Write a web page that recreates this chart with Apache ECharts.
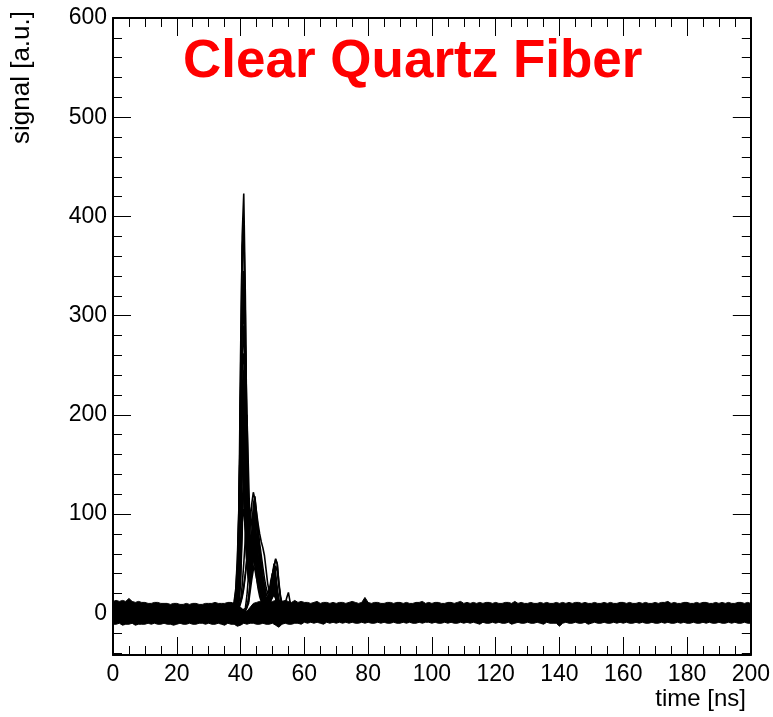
<!DOCTYPE html>
<html>
<head>
<meta charset="utf-8">
<script src="https://cdn.jsdelivr.net/npm/echarts@6/dist/echarts.min.js"></script>
<style>
html,body{margin:0;padding:0;background:#fff;}
#chart{width:773px;height:717px;}
</style>
</head>
<body>
<div id="chart"></div>
<script>
// ---- axis settings / labels ----
const titleText = "Clear Quartz Fiber";
const xTitle = "time [ns]";
const yTitle = "signal [a.u.]";
const xMin = 0, xMax = 200, xStep = 20;
const yMin = -42, yMax = 600;
const yMajorTicks = [0, 100, 200, 300, 400, 500, 600];
const yMinorTicks = [-40, -20, 20, 40, 60, 80, 120, 140, 160, 180, 220, 240, 260, 280, 320, 340, 360, 380, 420, 440, 460, 480, 520, 540, 560, 580];

// ---- baseline noise band (envelope of all overlaid traces), sampled every 1 ns from 0 to 200 ns ----
const bandStep = 1;
const bandUpper = [
 12,13,12,13,12,15,12,11,12,11,
 11,10,10,11,11,10,10,10,9,10,
 10,9,9,10,9,10,10,9,9,10,
 10,10,11,10,10,10,11,11,10,8,
 6,3,2,6,10,11,12,11,12,11,
 12,13,12,12,13,12,11,13,11,12,
 11,11,10,11,12,10,11,11,10,11,
 10,11,11,10,11,12,11,10,11,16,
 11,10,11,11,10,10,11,11,10,11,
 11,10,11,10,10,11,11,12,10,11,
 10,11,11,10,10,11,11,10,11,12,
 10,11,10,11,10,11,10,11,11,10,
 11,10,10,11,11,10,12,10,11,10,
 10,11,10,10,11,10,11,10,10,11,
 10,11,10,11,10,11,11,10,11,10,
 10,11,10,10,11,10,11,10,10,11,
 11,10,11,10,10,11,10,11,10,10,
 11,10,11,11,12,10,11,10,10,11,
 11,10,10,11,10,11,11,10,10,11,
 10,11,10,11,10,10,11,11,10,11,
 10
];
const bandLower = [
 -11,-11,-10,-12,-11,-11,-10,-12,-11,-11,
 -11,-10,-11,-10,-11,-11,-10,-11,-11,-12,
 -11,-10,-11,-11,-10,-11,-11,-10,-10,-11,
 -10,-11,-11,-10,-11,-12,-10,-11,-11,-13,
 -12,-10,-11,-10,-10,-11,-11,-10,-11,-11,
 -10,-12,-14,-11,-10,-11,-11,-10,-10,-11,
 -9,-10,-9,-10,-9,-10,-11,-9,-10,-9,
 -10,-9,-10,-9,-10,-9,-10,-10,-9,-10,
 -9,-10,-10,-9,-10,-9,-10,-10,-9,-10,
 -10,-9,-10,-9,-10,-10,-9,-10,-9,-9,
 -10,-9,-10,-10,-9,-10,-9,-10,-10,-9,
 -10,-9,-10,-9,-10,-11,-9,-10,-10,-9,
 -10,-9,-10,-10,-9,-11,-10,-9,-10,-10,
 -9,-10,-10,-9,-10,-11,-9,-10,-10,-10,
 -13,-10,-9,-10,-10,-9,-10,-10,-9,-11,
 -10,-9,-10,-10,-9,-10,-10,-9,-10,-9,
 -10,-9,-10,-10,-9,-10,-9,-10,-10,-9,
 -10,-10,-9,-10,-9,-10,-10,-9,-10,-9,
 -10,-10,-9,-10,-10,-9,-10,-9,-10,-10,
 -9,-10,-10,-9,-10,-9,-10,-10,-9,-10,
 -10
];

// ---- pulse region sample times (ns) ----
const pulseT = [37,37.5,38,38.5,39,39.5,40,40.5,41,41.5,42,42.5,43,43.5,44,44.5,45,45.5,46,46.5,47,47.5,48,48.5,49,49.5,50,50.5,51,51.5,52,52.5,53,53.5,54,54.5,55,55.5,56];

// ---- individual traces in the pulse region ----
const w1  = [3,-2,5,6,22,85,235,380,423,320,170,80,45,60,85,95,75,50,35,25,18,12,10,14,20,30,40,44,33,20,12,8,5,7,3,6,2,4,1];
const w2  = [-4,2,0,8,18,70,210,350,392,300,150,70,55,80,110,118,100,85,70,58,46,35,26,20,22,28,38,50,40,25,14,10,6,5,10,16,21,12,4];
const w3  = [1,4,2,10,30,110,260,370,385,260,120,60,48,72,100,112,95,75,58,45,34,25,18,16,22,33,40,46,55,50,30,15,8,9,4,2,6,1,3];
const w4  = [0,3,-1,6,15,60,180,290,330,260,140,65,40,55,80,90,70,48,32,22,15,11,8,12,16,24,32,38,30,18,10,6,8,3,5,2,4,0,2];
const w5  = [2,-3,4,7,25,90,210,290,305,220,110,55,38,50,70,82,62,42,30,20,14,10,7,10,15,22,30,35,28,16,9,7,4,6,2,5,1,3,0];
const w6  = [-2,1,3,4,12,45,150,250,290,245,130,62,42,58,78,88,70,46,32,22,16,11,9,11,14,20,28,32,26,15,10,6,5,3,6,2,4,1,0];
const w7  = [3,0,2,9,22,75,180,250,262,190,100,48,35,48,65,75,58,40,28,18,13,9,8,10,14,20,26,30,24,14,9,5,6,3,4,1,3,0,2];
const w8  = [1,-2,3,5,14,55,150,225,245,190,95,45,32,45,62,70,55,38,26,17,12,9,7,9,13,18,24,28,22,13,8,6,3,5,2,4,1,2,0];
const w9  = [0,2,4,8,25,80,170,222,210,150,75,40,35,50,68,78,60,40,27,18,13,9,8,10,12,17,22,26,20,12,8,5,4,3,5,2,3,1,2];
const w10 = [-1,3,1,6,13,48,130,190,208,160,82,42,30,42,58,66,52,36,24,16,12,8,6,8,11,15,20,24,19,11,7,5,3,4,2,3,1,0,2];
const w11 = [2,0,3,5,12,40,110,170,188,150,80,40,32,46,62,72,56,38,26,17,12,8,7,9,12,16,21,25,20,12,8,5,4,3,2,4,1,2,0];
const w12 = [1,-1,2,4,11,35,95,150,168,140,78,40,30,40,54,60,48,33,23,15,11,8,6,8,10,14,18,22,17,10,7,5,3,4,2,3,0,1,2];
const w13 = [0,2,1,6,14,45,105,145,150,110,60,34,30,44,60,68,52,35,24,16,11,8,6,8,11,15,19,22,17,10,7,4,3,5,2,3,1,0,1];
const w14 = [2,1,3,5,10,30,78,115,128,105,62,36,30,42,56,62,48,33,22,15,10,7,6,7,9,13,16,19,15,9,6,4,3,2,4,1,2,0,1];
const w15 = [-1,1,2,4,8,22,60,92,105,92,60,38,34,48,64,72,56,38,26,17,12,8,6,8,10,13,17,20,16,9,6,4,3,4,2,1,3,0,1];
const w16 = [2,5,12,25,55,110,200,235,170,95,50,35,40,55,62,50,36,25,17,12,9,7,6,8,11,16,22,26,20,12,8,5,4,3,2,4,1,2,0];
const w17 = [1,-2,3,2,5,8,12,18,28,40,55,72,92,110,122,115,102,90,80,72,66,58,44,30,22,28,38,48,54,50,32,18,10,6,5,3,4,2,1];
const w18 = [0,2,1,4,3,6,10,16,25,38,55,72,88,95,85,68,50,36,26,19,14,10,8,9,12,16,20,22,18,11,7,5,3,4,2,3,1,0,2];
const w19 = [2,-1,3,1,4,2,5,3,1,4,2,12,30,50,66,76,80,70,54,40,30,22,16,12,12,16,22,28,24,15,9,6,5,3,4,2,3,1,0];
const w20 = [-2,1,0,3,2,5,4,3,2,5,18,38,55,62,65,58,48,38,30,24,19,15,12,12,16,22,28,32,26,16,10,6,5,3,2,4,1,2,0];
const w21 = [1,0,2,-1,3,2,4,1,3,2,4,10,22,34,44,52,55,50,40,30,22,17,14,15,18,24,32,40,48,42,28,16,10,7,5,3,4,2,1];
const w22 = [0,3,1,2,4,3,2,4,1,3,6,16,30,42,48,44,36,28,22,17,13,10,10,14,18,22,25,24,20,14,9,6,4,3,5,2,3,1,0];
const w23 = [1,2,0,3,8,25,70,160,240,270,200,110,60,50,65,80,75,58,42,30,22,16,12,12,15,20,26,30,25,15,9,6,4,3,5,2,3,1,0];
const w24 = [0,-1,2,1,4,10,30,80,150,195,200,140,80,55,60,72,70,55,40,28,20,15,11,10,13,18,24,28,22,13,8,5,4,3,2,4,1,2,0];
const w25 = [2,0,3,7,20,80,220,320,345,250,130,65,45,62,88,100,88,70,52,38,28,20,15,13,17,25,34,42,36,22,12,7,5,4,3,2,4,1,0];
const w26 = [1,0,2,3,2,5,12,28,50,75,98,110,104,90,78,70,62,52,42,32,24,18,14,13,15,19,24,27,22,14,9,6,4,3,2,3,1,0,1];
const w27 = [3,6,10,22,50,100,145,160,120,75,48,40,48,60,66,58,46,36,28,21,16,12,10,11,14,19,25,29,23,14,8,5,4,3,2,4,1,2,0];
const w28 = [0,1,3,2,6,14,40,90,130,140,110,70,58,72,92,105,96,80,64,50,38,28,20,16,18,24,32,40,34,20,12,7,5,4,3,2,3,1,0];

const traces = [w1,w2,w3,w4,w5,w6,w7,w8,w9,w10,w11,w12,w13,w14,w15,w16,w17,w18,w19,w20,w21,w22,w23,w24,w25,w26,w27,w28];

// ---- build options ----
const FONT = "'Liberation Sans', Arial, Helvetica, sans-serif";
const GRID = {left: 113, right: 22, top: 18, bottom: 62};

const bandT = bandUpper.map((_, i) => i * bandStep);
const bandUpperData = bandUpper.map((v, i) => [bandT[i], v]);
const bandLowerData = bandLower.map((v, i) => [bandT[i], v]);

const series = [];
// upper envelope: black fill down to the bottom of the plot
series.push({
  type: 'line', name: 'baseline-upper', data: bandUpperData,
  symbol: 'none', xAxisIndex: 0, yAxisIndex: 0,
  lineStyle: {color: '#000', width: 1},
  areaStyle: {color: '#000', opacity: 1, origin: 'start'},
  silent: true, animation: false, z: 1
});
// lower envelope: black edge, white below it
series.push({
  type: 'line', name: 'baseline-lower', data: bandLowerData,
  symbol: 'none', xAxisIndex: 0, yAxisIndex: 0,
  lineStyle: {color: '#000', width: 1},
  areaStyle: {color: '#fff', opacity: 1, origin: 'start'},
  silent: true, animation: false, z: 1.5
});
traces.forEach((w, k) => {
  series.push({
    type: 'line', name: 'trace' + (k + 1),
    data: w.map((v, i) => [pulseT[i], v]),
    symbol: 'none', xAxisIndex: 0, yAxisIndex: 0,
    lineStyle: {color: '#000', width: 1.6},
    silent: true, animation: false, z: 3
  });
});

function xAx(pos, showLabel) {
  return {
    type: 'value', position: pos, min: xMin, max: xMax, interval: xStep, z: 10,
    axisLine: {show: true, onZero: false, lineStyle: {color: '#000', width: 2}},
    axisTick: {show: true, inside: true, length: 18, lineStyle: {color: '#000', width: 1}},
    minorTick: {show: true, splitNumber: 4, length: 9, lineStyle: {color: '#000', width: 1}},
    axisLabel: {show: showLabel, color: '#000', fontSize: 23, fontFamily: FONT, margin: 8,
                showMinLabel: true, showMaxLabel: true},
    splitLine: {show: false}, minorSplitLine: {show: false}
  };
}
function yAx(pos, major, showLabel) {
  return {
    type: 'value', position: pos, min: yMin, max: yMax, z: 10,
    axisLine: {show: major, onZero: false, lineStyle: {color: '#000', width: 2}},
    axisTick: {show: true, inside: true, length: major ? 18 : 9,
               customValues: major ? yMajorTicks : yMinorTicks,
               lineStyle: {color: '#000', width: 1}},
    axisLabel: {show: showLabel, customValues: yMajorTicks, color: '#000', fontSize: 23,
                fontFamily: FONT, margin: 6},
    splitLine: {show: false}
  };
}

const option = {
  backgroundColor: '#fff',
  animation: false,
  textStyle: {fontFamily: FONT},
  grid: GRID,
  xAxis: [xAx('bottom', true), xAx('top', false)],
  yAxis: [yAx('left', true, true), yAx('left', false, false), yAx('right', true, false), yAx('right', false, false)],
  series: series,
  graphic: [
    {type: 'text', left: 183, top: 36, z: 10,
     style: {text: titleText, fill: '#ff0000', font: "bold 53px 'Liberation Sans', Arial, sans-serif"}},
    {type: 'text', z: 10, x: 746, y: 699,
     style: {text: xTitle, fill: '#000', font: "24px 'Liberation Sans', Arial, sans-serif", align: 'right', verticalAlign: 'middle'}},
    {type: 'text', z: 10, x: 22, y: 11, rotation: Math.PI / 2,
     style: {text: yTitle, fill: '#000', font: "26px 'Liberation Sans', Arial, sans-serif", align: 'right', verticalAlign: 'middle'}}
  ]
};

const chart = echarts.init(document.getElementById('chart'), null, {renderer: 'canvas'});
chart.setOption(option);
</script>
</body>
</html>
